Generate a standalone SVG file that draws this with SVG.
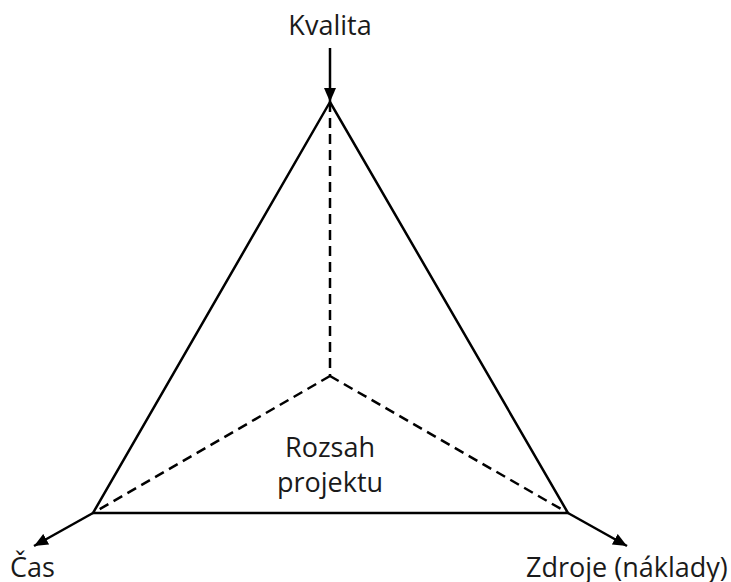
<svg xmlns="http://www.w3.org/2000/svg" width="731" height="582" viewBox="0 0 731 582">
<style>
.t{font-family:"Open Sans","Noto Sans",sans-serif;font-size:27px;fill:#1a1a1a}
.s{stroke:#000;stroke-width:2.5;fill:none}
.d{stroke:#000;stroke-width:2.5;fill:none;stroke-dasharray:10 6}
</style>
<defs>
<marker id="ah" viewBox="0 0 14 12" refX="14" refY="6" markerWidth="14" markerHeight="12" markerUnits="userSpaceOnUse" orient="auto">
<path d="M0,0 L14,6 L0,12 z" fill="#000"/>
</marker>
</defs>
<g id="connectors">
<polygon class="s" points="330,102 93,513 568,513"/>
<line class="d" x1="330" y1="102" x2="330" y2="376"/>
<line class="d" x1="330" y1="376" x2="93" y2="513"/>
<line class="d" x1="330" y1="376" x2="568" y2="513"/>
<line class="s" x1="330" y1="48" x2="330" y2="102" marker-end="url(#ah)"/>
<line class="s" x1="93" y1="513" x2="34" y2="546" marker-end="url(#ah)"/>
<line class="s" x1="568" y1="513" x2="627" y2="546" marker-end="url(#ah)"/>
</g>
<g id="kvalita"><text class="t" x="330" y="35" text-anchor="middle">Kvalita</text></g>
<g id="cas"><text class="t" x="10" y="577">Čas</text></g>
<g id="zdroje"><text class="t" x="526" y="577">Zdroje (náklady)</text></g>
<g id="rozsah"><text class="t" x="330" y="457" text-anchor="middle">Rozsah</text><text class="t" x="330" y="492" text-anchor="middle">projektu</text></g>
</svg>
